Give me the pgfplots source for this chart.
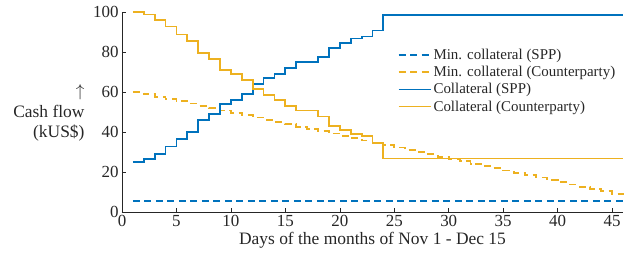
\documentclass[border=0pt]{standalone}
\usepackage{fontspec}
\setmainfont{Liberation Serif}
\usepackage{pgfplots}
\pgfplotsset{compat=1.18}
\definecolor{mblue}{RGB}{0,114,189}
\definecolor{myellow}{RGB}{237,177,32}
\definecolor{axgray}{RGB}{38,38,38}
\begin{document}
\begin{tikzpicture}
\begin{axis}[
  scale only axis,
  width=501bp, height=200bp,
  xmin=0, xmax=46, ymin=0, ymax=100,
  xtick={0,5,...,45}, ytick={0,20,...,100},
  axis x line*=bottom, axis y line*=left,
  axis line style={axgray, line width=0.6bp},
  tick align=inside,
  major tick length=4bp,
  tick style={axgray, line width=0.6bp},
  /pgf/number format/assume math mode=true,
  tick label style={font=\fontsize{17}{19}\selectfont, text=axgray},
  xlabel={Days of the months of Nov 1 - Dec 15},
  xlabel style={font=\fontsize{17.5}{20}\selectfont, text=axgray, yshift=2bp},
  clip=false,
  legend style={draw=none, fill=none, at={(0.55,0.825)}, anchor=north west,
    font=\fontsize{15}{17}\selectfont, text=axgray, row sep=1.3bp,
    inner xsep=0pt, inner ysep=0pt},
  legend cell align=left,
  legend image code/.code={\draw[#1] (0bp,0bp) -- (32bp,0bp);},
]
\addplot[mblue, line width=1.8bp, dash pattern=on 7bp off 4.5bp, const plot] coordinates {(1,5.5) (46,5.5)};
\addlegendentry{Min. collateral (SPP)}
\addplot[myellow, line width=1.8bp, dash pattern=on 7bp off 4.5bp, const plot] coordinates {
(1,60) (2,58.84) (3,57.69) (4,56.53) (5,55.38) (6,54.22) (7,53.07) (8,51.91) (9,50.76) (10,49.6)
(11,48.44) (12,47.29) (13,46.13) (14,44.98) (15,43.82) (16,42.67) (17,41.51) (18,40.36) (19,39.2) (20,38.04)
(21,36.89) (22,35.73) (23,34.58) (24,33.42) (25,32.27) (26,31.11) (27,29.96) (28,28.8) (29,27.64) (30,26.49)
(31,25.33) (32,24.18) (33,23.02) (34,21.87) (35,20.71) (36,19.56) (37,18.4) (38,17.24) (39,16.09) (40,14.93)
(41,13.78) (42,12.62) (43,11.47) (44,10.31) (45,9.16) (46,8)};
\addlegendentry{Min. collateral (Counterparty)}
\addplot[mblue, line width=1.8bp, const plot] coordinates {
(1,25) (2,26.3) (3,29) (4,32.7) (5,36.3) (6,39.8) (7,46) (8,49) (9,54) (10,56)
(11,59) (12,64) (13,66.8) (14,69) (15,72) (16,75) (17,75) (18,77.3) (19,82) (20,84.3)
(21,86.7) (22,87.7) (23,90.7) (24,98.3) (46,98.3)};
\addlegendentry{Collateral (SPP)}
\addplot[myellow, line width=1.8bp, const plot] coordinates {
(1,100) (2,98.7) (3,96) (4,92.7) (5,88.7) (6,85.3) (7,79.3) (8,76.3) (9,71) (10,69)
(11,66) (12,61.3) (13,58.3) (14,56) (15,53) (16,50.7) (17,50.7) (18,47.7) (19,43) (20,41)
(21,39) (22,38) (23,34.3) (24,26.7) (46,26.7)};
\addlegendentry{Collateral (Counterparty)}
\coordinate (O) at (rel axis cs:0,0);
\node[anchor=east, align=right, text=axgray, font=\fontsize{17.5}{20.5}\selectfont, xshift=-34bp] at (axis cs:0,49.5) {$\uparrow$\\Cash flow\\(kUS\$)};
\end{axis}
\path (O) ++(-122bp,-52bp) rectangle ++(642bp,264bp);
\end{tikzpicture}
\end{document}
